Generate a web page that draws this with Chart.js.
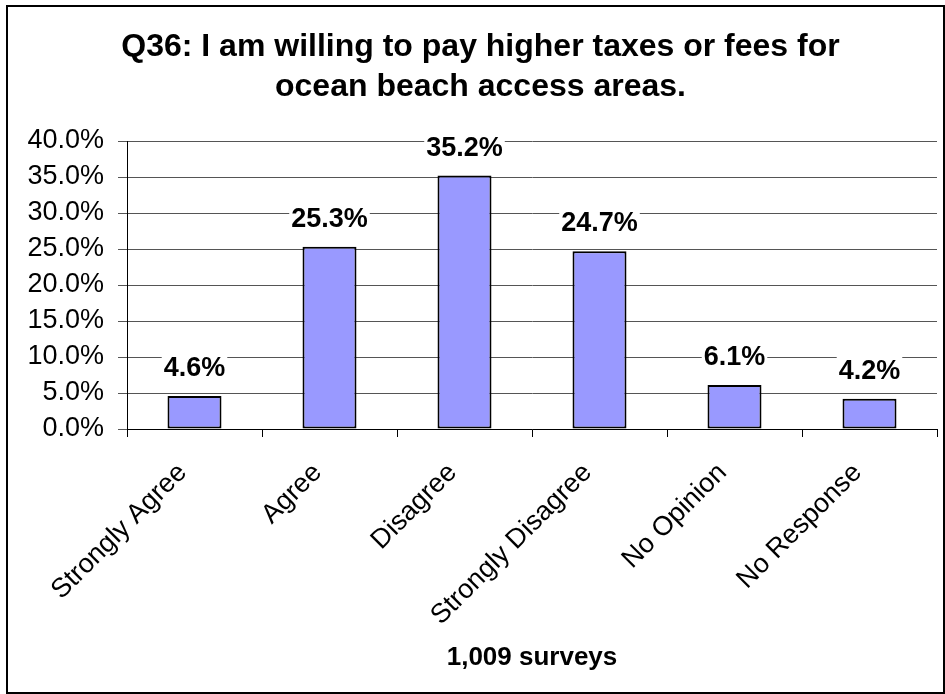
<!DOCTYPE html>
<html>
<head>
<meta charset="utf-8">
<script src="https://cdn.jsdelivr.net/npm/chart.js@4.4.0/dist/chart.umd.min.js"></script>
<style>
    html, body { margin: 0; padding: 0; background: #fff; }
    #wrap { position: relative; width: 945px; height: 694px; }
    #frame { position: absolute; left: 6px; top: 5px; width: 939px; height: 689px;
             border: 2px solid #000; box-sizing: border-box; pointer-events: none; }
</style>
</head>
<body>
<div id="wrap">
    <canvas id="surveyChart" width="945" height="694"></canvas>
    <div id="frame"></div>
</div>
<script>
const categories = ['Strongly Agree', 'Agree', 'Disagree', 'Strongly Disagree', 'No Opinion', 'No Response']
const percentValues = [4.6, 25.3, 35.2, 24.7, 6.1, 4.2]
const titleLines = ['Q36: I am willing to pay higher taxes or fees for', 'ocean beach access areas.']
const axisTitle = '1,009 surveys'

const fontFamily = '"Liberation Sans", Arial, sans-serif'

// etiquettes au-dessus des barres, fond blanc comme dans Excel
const barLabels = {
    id: 'barLabels',
    afterDatasetsDraw(chart) {
        const ctx = chart.ctx
        const meta = chart.getDatasetMeta(0)
        ctx.save()
        ctx.font = 'bold 27px ' + fontFamily
        ctx.textAlign = 'center'
        ctx.textBaseline = 'alphabetic'
        meta.data.forEach((bar, i) => {
            const text = percentValues[i].toFixed(1) + '%'
            const w = ctx.measureText(text).width
            const baseY = bar.y - 20
            ctx.fillStyle = '#fff'
            ctx.fillRect(bar.x - w / 2 - 2, baseY - 23, w + 4, 28)
            ctx.fillStyle = '#000'
            ctx.fillText(text, bar.x, baseY)
        })
        ctx.restore()
    }
}

const ctx = document.getElementById('surveyChart').getContext('2d')
new Chart(ctx, {
    type: 'bar',
    data: {
        labels: categories,
        datasets: [{
            data: percentValues,
            backgroundColor: '#9999FF',
            borderColor: '#000',
            borderWidth: 2,
            borderSkipped: false,
            barPercentage: 0.4,
            categoryPercentage: 1.0
        }]
    },
    options: {
        responsive: false,
        animation: false,
        layout: { padding: { left: 24, right: 8, top: 0, bottom: 0 } },
        plugins: {
            legend: { display: false },
            tooltip: { enabled: false },
            title: {
                display: true,
                text: titleLines,
                color: '#000',
                font: { family: fontFamily, size: 32, weight: 'bold', lineHeight: 1.25 },
                padding: { top: 27, bottom: 34 }
            }
        },
        scales: {
            y: {
                min: 0,
                max: 40,
                ticks: {
                    stepSize: 5,
                    color: '#000',
                    padding: 14,
                    font: { family: fontFamily, size: 27 },
                    callback: v => v.toFixed(1) + '%'
                },
                grid: { color: '#555', tickLength: 9, tickColor: '#555' },
                border: { color: '#000', width: 1 },
                afterFit(scale) { scale.width = 103 }
            },
            x: {
                ticks: {
                    color: '#000',
                    minRotation: 45,
                    maxRotation: 45,
                    padding: 20,
                    labelOffset: -12,
                    font: { family: fontFamily, size: 27 }
                },
                grid: { drawOnChartArea: false, offset: true, tickLength: 8, tickColor: '#000' },
                border: { color: '#000', width: 1 },
                title: {
                    display: true,
                    text: axisTitle,
                    color: '#000',
                    font: { family: fontFamily, size: 26, weight: 'bold', lineHeight: 1.2 },
                    padding: { top: 0, bottom: 21 }
                },
                afterFit(scale) { scale.height = 265 }
            }
        }
    },
    plugins: [barLabels]
})
</script>
</body>
</html>
